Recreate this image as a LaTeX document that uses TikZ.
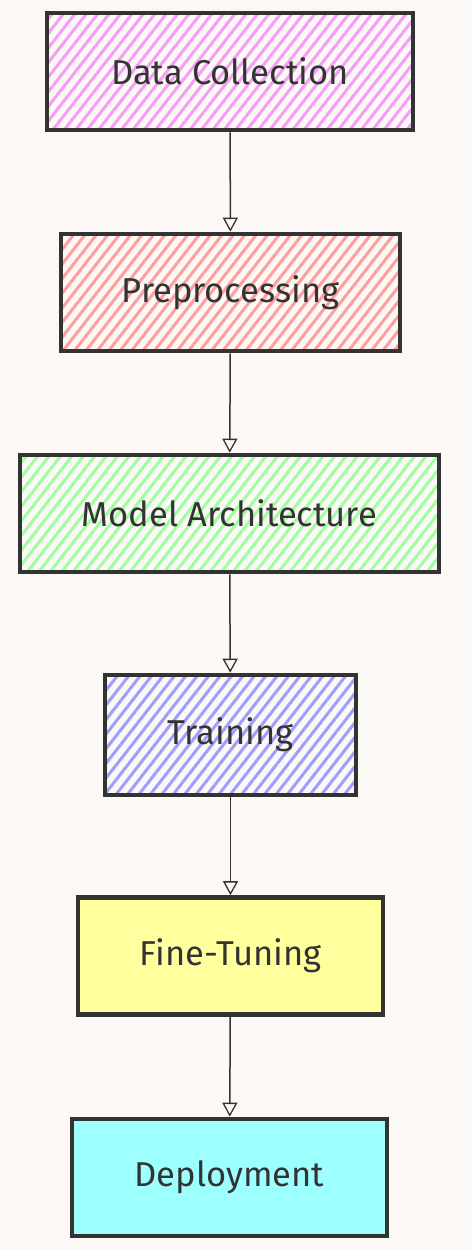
\documentclass[tikz,border=0pt]{standalone}
\usepackage{fontspec}
\setmainfont{Fira Sans}
\usetikzlibrary{arrows.meta,patterns.meta}
\definecolor{bgcol}{HTML}{FCF8F5}
\definecolor{ink}{HTML}{333333}
\definecolor{cmag}{HTML}{F59EF5}
\definecolor{cred}{HTML}{FF9E9E}
\definecolor{cgreen}{HTML}{9EFF9E}
\definecolor{cblue}{HTML}{9E9EFF}
\definecolor{cyel}{HTML}{FFFF9E}
\definecolor{ccyan}{HTML}{9EFFFF}
\tikzset{
  stage/.style={draw=ink, line width=4.6pt, text=ink, font=\fontsize{34.5}{38}\selectfont,
    inner sep=0pt, minimum height=117pt},
  hatched/.style={preaction={pattern={Lines[angle=52,distance=9pt,line width=3pt]}, pattern color=#1}},
  solid/.style={fill=#1},
  flow/.style={draw=ink, line width=1.5pt, -{Triangle[open,length=14pt,width=15pt,line width=1.3pt]}}
}

\begin{document}
\begin{tikzpicture}[x=1pt,y=-1pt]
    \fill[bgcol] (0,0) rectangle (472,1250);

    \node[stage, hatched=cmag, minimum width=366pt] (dc) at (230,71.5) {Data Collection};
    \node[stage, hatched=cred, minimum width=339pt] (pre) at (230.5,292.5) {Preprocessing};
    \node[stage, hatched=cgreen, minimum width=419pt] (ma) at (229.5,513.5) {Model Architecture};
    \node[stage, hatched=cblue, minimum width=251pt, minimum height=120pt] (tr) at (230.5,735) {Training};
    \node[stage, solid=cyel, minimum width=305pt] (ft) at (230.5,956) {Fine-Tuning};
    \node[stage, solid=ccyan, minimum width=315pt] (dep) at (229.5,1177.5) {Deployment};

    \foreach \a/\b in {dc/pre,pre/ma,ma/tr,tr/ft,ft/dep} {
      \draw[flow] (\a) -- (\b);
    }
  \end{tikzpicture}
\end{document}
